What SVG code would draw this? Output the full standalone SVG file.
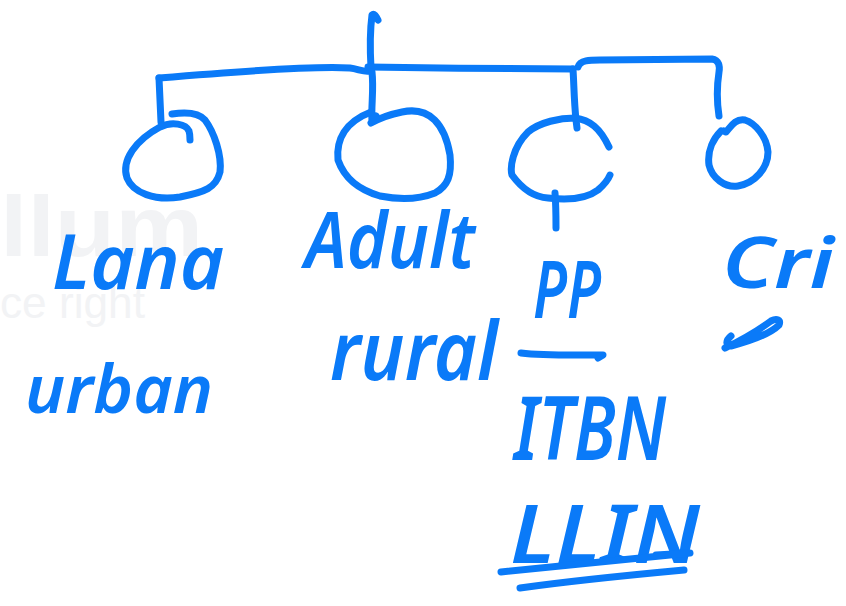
<svg xmlns="http://www.w3.org/2000/svg" width="846" height="606" viewBox="0 0 846 606">
<style>
.ink{fill:none;stroke:#0a7af8;stroke-width:7;stroke-linecap:round;stroke-linejoin:round}
.hw{fill:#0a7af8;font-family:"Noto Sans","DejaVu Sans",sans-serif;font-style:italic;font-weight:600}
.wm{fill:#f2f3f5;font-family:"Liberation Sans",Arial,sans-serif}
</style>
<rect width="846" height="606" fill="#ffffff"/>
<g id="watermark">
<text class="wm" x="0" y="256" font-size="86" font-weight="bold" textLength="203" lengthAdjust="spacingAndGlyphs">llum</text>
<text class="wm" x="0" y="318" font-size="44" textLength="145" lengthAdjust="spacingAndGlyphs">ce right</text>
</g>
<g id="connectors">
<path class="ink" d="M371 68 C370 50 370 30 372 15 C374 13 376 16 378 20"/>
<path class="ink" d="M159 78 C230 72 320 66 350 68 C358 69 364 72 369 71"/>
<path class="ink" d="M368 67 C430 68 520 69 573 69"/>
<path class="ink" d="M159 78 L161 122"/>
<path class="ink" d="M372 72 C374 90 371 105 372 122 L376 116"/>
<path class="ink" d="M573 69 C574 85 574 100 576 120 L577 128"/>
<path class="ink" d="M578 67 C580 60 590 60 600 60 L712 59 C719 60 720 66 719 72 C717 85 717 103 719 116"/>
<path class="ink" d="M555 193 C556 205 556 215 556 228"/>
</g>
<g id="node-lana">
<path class="ink" d="M172 114 C185 112 198 112 205 120 C214 132 222 155 220 172 C216 188 205 192 180 197 C155 201 133 193 127 178 C121 160 136 140 160 127 C172 121 186 124 189 131 C190 134 190 137 190 140"/>
<text class="hw" x="52" y="289" font-size="76" textLength="172" lengthAdjust="spacingAndGlyphs">Lana</text>
<text class="hw" x="25" y="413" font-size="66" textLength="188" lengthAdjust="spacingAndGlyphs">urban</text>
</g>
<g id="node-adult">
<path class="ink" d="M371 123 C380 118 392 114 402 112 C430 106 445 125 450 155 C452 175 448 186 435 193 C420 199 400 200 380 196 C360 190 345 180 338 160 C336 140 345 122 371 112"/>
<text class="hw" x="305" y="268" font-size="78" textLength="170" lengthAdjust="spacingAndGlyphs">Adult</text>
<text class="hw" x="330" y="380" font-size="82" textLength="168" lengthAdjust="spacingAndGlyphs">rural</text>
</g>
<g id="node-pp">
<path class="ink" d="M609 147 C600 128 590 120 575 118 C560 118 540 122 528 132 C512 148 510 168 512 175 C520 186 532 197 548 198 C565 200 585 200 598 190 C605 184 608 180 610 175"/>
<text class="hw" x="533" y="318" font-size="80" textLength="68" lengthAdjust="spacingAndGlyphs">PP</text>
<path class="ink" d="M521 353 C545 356 580 355 603 355 L598 358"/>
<text class="hw" x="514" y="460" font-size="88" textLength="152" lengthAdjust="spacingAndGlyphs">ITBN</text>
<text class="hw" x="510" y="563" font-size="82" textLength="190" lengthAdjust="spacingAndGlyphs">LLIN</text>
<path class="ink" d="M501 572 C560 566 620 560 690 553 L656 555"/>
<path class="ink" d="M520 588 C570 581 630 575 684 570"/>
</g>
<g id="node-cri">
<path class="ink" d="M721 131 C714 138 707 150 709 165 C712 178 725 188 738 186 C755 183 768 168 768 152 C767 137 755 123 745 120 C735 118 730 128 726 132 L724 131"/>
<text class="hw" x="722" y="288" font-size="70" textLength="112" lengthAdjust="spacingAndGlyphs">Cri</text>
<path class="ink" d="M731 336 C726 340 725 346 731 346 C750 341 770 334 779 325 C781 320 777 318 771 321 C760 329 742 340 725 348"/>
</g>
</svg>
